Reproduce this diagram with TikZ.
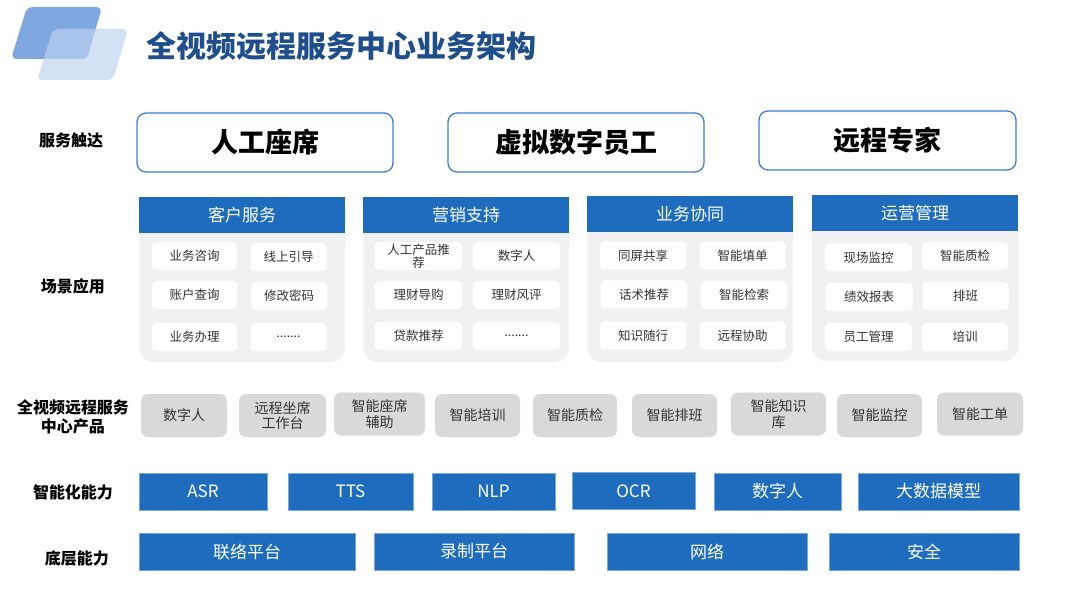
\documentclass[tikz,border=0pt]{standalone}
\usepackage{fontspec}
\setmainfont{Noto Sans CJK SC}
\definecolor{titleblue}{HTML}{1F4E8C}
\definecolor{logoback}{HTML}{7FA7E0}
\definecolor{logofront}{HTML}{BDD3F0}
\definecolor{edgeblue}{HTML}{3A7FD5}
\definecolor{barblue}{HTML}{1E6CBE}
\definecolor{panelgray}{HTML}{F1F1F1}
\definecolor{prodgray}{HTML}{D9D9D9}
\definecolor{inktext}{HTML}{333333}
\begin{document}
\begin{tikzpicture}[x=1pt, y=-1pt,
  rowlabel/.style={font=\fontsize{16}{19}\selectfont\bfseries, align=center, text=black, inner sep=0},
  touchbox/.style={draw=edgeblue, line width=1.3pt, rounded corners=9pt, fill=white, minimum width=256, minimum height=59, font=\fontsize{27}{30}\selectfont\bfseries},
  headbar/.style={fill=barblue, minimum width=206, minimum height=36, text=white, font=\fontsize{17}{20}\selectfont, inner sep=0},
  itembox/.style={fill=white, rounded corners=4pt, minimum width=86, minimum height=28, text=inktext, font=\fontsize{12.5}{13.5}\selectfont, align=center, inner sep=0},
  prodbox/.style={fill=prodgray, rounded corners=7pt, minimum height=43, text=inktext, font=\fontsize{14}{15.5}\selectfont, align=center, inner sep=0},
  capbox/.style={fill=barblue, draw=barblue!60!white, line width=0.6pt, minimum height=37, text=white, font=\fontsize{17}{20}\selectfont, inner sep=0}]
  \fill[white] (0,0) rectangle (1080,604);
  \useasboundingbox (0,0) rectangle (1080,604);
  % logo and title
  \fill[logoback, rounded corners=5pt] (27,7) -- (102,7) -- (87,59) -- (11,59) -- cycle;
  \fill[logofront, opacity=0.68, rounded corners=5pt] (53,29) -- (128,29) -- (113,80) -- (37,80) -- cycle;
  \node[anchor=west, text=titleblue, font=\fontsize{30}{32}\selectfont\bfseries, inner sep=0] (title) at (146,46) {全视频远程服务中心业务架构};
  % row labels
  \node[rowlabel] (lbltouch) at (71,140) {服务触达};
  \node[rowlabel] (lblscene) at (73,286) {场景应用};
  \node[rowlabel] (lblprod) at (73,417) {全视频远程服务\\中心产品};
  \node[rowlabel] (lblai) at (73,492) {智能化能力};
  \node[rowlabel] (lblbase) at (77,558) {底层能力};
  % service touch points
  \node[touchbox] (agent) at (265,142.5) {人工座席};
  \node[touchbox] (avatar) at (576,142.5) {虚拟数字员工};
  \node[touchbox, minimum width=257] (expert) at (887.5,140.5) {远程专家};
  % scene panels
  \fill[panelgray, rounded corners=14pt] (139,199) rectangle (345,362);
  \fill[panelgray, rounded corners=14pt] (363,199) rectangle (569,362);
  \fill[panelgray, rounded corners=14pt] (587,198) rectangle (793,362);
  \fill[panelgray, rounded corners=14pt] (812,197) rectangle (1018,361);
  \node[headbar] (cs) at (242,215) {客户服务};
  \node[headbar] (mk) at (466,215.5) {营销支持};
  \node[headbar] (co) at (690,214.5) {业务协同};
  \node[headbar] (op) at (915,213.5) {运营管理};
  % customer service items
  \node[itembox, minimum width=85] (cs1) at (194.5,256) {业务咨询};
  \node[itembox, minimum width=76] (cs2) at (288.5,257) {线上引导};
  \node[itembox, minimum width=85] (cs3) at (194.5,295) {账户查询};
  \node[itembox, minimum width=76] (cs4) at (289,296) {修改密码};
  \node[itembox, minimum width=85] (cs5) at (194.5,337) {业务办理};
  \node[itembox, minimum width=76] (cs6) at (288.5,337) {.......};
  % marketing items
  \node[itembox, minimum width=87] (mk1) at (418.5,256) {人工产品推\\荐};
  \node[itembox, minimum width=87] (mk2) at (516.5,256) {数字人};
  \node[itembox, minimum width=87] (mk3) at (418.5,295) {理财导购};
  \node[itembox, minimum width=87] (mk4) at (516.5,295) {理财风评};
  \node[itembox, minimum width=87] (mk5) at (418.5,336) {贷款推荐};
  \node[itembox, minimum width=87] (mk6) at (516.5,336) {.......};
  % collaboration items
  \node[itembox] (co1) at (643,255.5) {同屏共享};
  \node[itembox] (co2) at (742.5,255.5) {智能填单};
  \node[itembox] (co3) at (644,294.5) {话术推荐};
  \node[itembox] (co4) at (744,295) {智能检索};
  \node[itembox] (co5) at (643,335.5) {知识随行};
  \node[itembox] (co6) at (742.5,335.5) {远程协助};
  % operation items
  \node[itembox, minimum width=87] (op1) at (868.5,257.5) {现场监控};
  \node[itembox] (op2) at (965,256) {智能质检};
  \node[itembox, minimum width=87] (op3) at (869,297) {绩效报表};
  \node[itembox] (op4) at (965.5,296) {排班};
  \node[itembox, minimum width=87] (op5) at (868.5,337) {员工管理};
  \node[itembox] (op6) at (965,337) {培训};
  % products
  \node[prodbox, minimum width=86] (pd1) at (184,415.5) {数字人};
  \node[prodbox, minimum width=87] (pd2) at (282.5,415.5) {远程坐席\\工作台};
  \node[prodbox, minimum width=91] (pd3) at (379.5,414) {智能座席\\辅助};
  \node[prodbox, minimum width=85] (pd4) at (477.5,415.5) {智能培训};
  \node[prodbox, minimum width=84] (pd5) at (575,415.5) {智能质检};
  \node[prodbox, minimum width=85] (pd6) at (674.5,415.5) {智能排班};
  \node[prodbox, minimum width=95] (pd7) at (778.5,414) {智能知识\\库};
  \node[prodbox, minimum width=85] (pd8) at (879.5,415.5) {智能监控};
  \node[prodbox, minimum width=86] (pd9) at (980,414) {智能工单};
  % intelligent capabilities
  \node[capbox, minimum width=128] (asr) at (203,491.5) {ASR};
  \node[capbox, minimum width=125] (tts) at (350.5,491.5) {TTS};
  \node[capbox, minimum width=123] (nlp) at (493.5,491.5) {NLP};
  \node[capbox, minimum width=123] (ocr) at (633.5,491) {OCR};
  \node[capbox, minimum width=127] (dh) at (777.5,491.5) {数字人};
  \node[capbox, minimum width=161] (bigdata) at (938.5,491.5) {大数据模型};
  % base capabilities
  \node[capbox, minimum width=216] (contact) at (247,551.5) {联络平台};
  \node[capbox, minimum width=200] (record) at (474,551.5) {录制平台};
  \node[capbox, minimum width=200] (net) at (707,551.5) {网络};
  \node[capbox, minimum width=190] (sec) at (924,551.5) {安全};
\end{tikzpicture}
\end{document}
